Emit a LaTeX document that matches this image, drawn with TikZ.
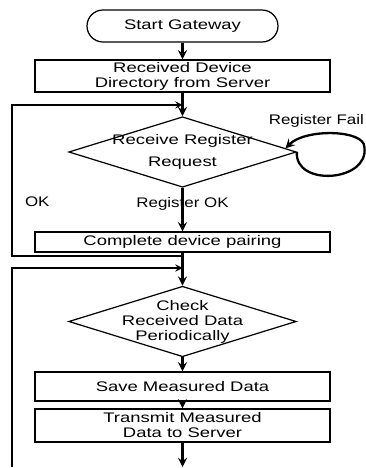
\documentclass[tikz,border=0pt]{standalone}
\usepackage{fontspec}
\setmainfont{Liberation Sans}[FakeStretch=1.33]
\newfontfamily\labelfont{Liberation Sans}[FakeStretch=1.22]
\usepackage{tikz}
\usetikzlibrary{shapes.geometric, arrows, positioning}

\begin{document}
\begin{tikzpicture}[node distance=1cm, font=\fontsize{7.9pt}{8.5pt}\selectfont,
    terminal/.style={rectangle, draw, line width=0.7pt, rounded corners=0.32cm, minimum width=3.82cm, minimum height=0.64cm, inner sep=0pt},
    block/.style={rectangle, draw, line width=0.7pt, minimum width=5.9cm, inner sep=0pt, align=center},
    decision/.style={diamond, draw, line width=0.7pt, minimum width=4.55cm, minimum height=1.41cm, inner sep=-1cm, align=center},
    lbl/.style={font=\fontsize{7.9pt}{8.5pt}\labelfont},
    arrow/.style={line width=1.3pt,->,>=stealth},
    loopback/.style={line width=0.8pt,->,>=stealth}]

    \useasboundingbox (0,0) rectangle (7.3,-9.36);

    \node [terminal] (start) at (3.65,-0.52) {Start Gateway};
    \node [block, minimum height=0.64cm, below of=start] (dir) {Received Device\\Directory from Server};
    \node [decision, below of=dir, node distance=1.52cm] (reg) {Receive Register\\[4pt]Request};
    \node [block, minimum height=0.4cm, below of=reg, node distance=1.8cm] (pair) {Complete device pairing};
    \node [decision, below of=pair, node distance=1.59cm] (check) {Check\\Received Data\\Periodically};
    \node [block, minimum height=0.58cm, below of=check, node distance=1.3cm] (save) {Save Measured Data};
    \node [block, minimum height=0.66cm, below of=save, node distance=0.78cm] (send) {Transmit Measured\\Data to Server};

    % junctions of the two loops
    \coordinate [below of=dir, node distance=0.58cm] (regin);
    \coordinate [below of=pair, node distance=0.28cm] (okjoin);
    \coordinate [below of=pair, node distance=0.52cm] (checkin);
    \coordinate [below of=send, node distance=0.83cm] (next);
    \coordinate [left of=next, node distance=3.41cm] (nextback);

    \draw [arrow] (start) -- (dir);
    \draw [arrow] (dir) -- (reg);
    \draw [arrow] (reg) -- node[lbl, pos=0.36] {Register OK} (pair);
    \draw [arrow] (reg.east) .. controls +(-0.05,-0.7) and +(0.1,-0.7) .. +(1.35,0.1)
        .. controls +(0,0.35) and +(0.4,0.4) .. node[lbl, pos=0.4, above, xshift=-0.52cm] {Register Fail} (reg.2);
    \draw [arrow] (pair) -- (check);
    \draw [arrow] (check) -- (save);
    \draw [arrow] (save) -- (send);
    \draw [arrow] (send) -- (next);
    \draw [loopback] (okjoin) -- ++(-3.41,0) |- node[lbl, pos=0.18, right, xshift=0.13cm] {OK} (regin);
    \draw [loopback] (nextback) |- (checkin);
\end{tikzpicture}
\end{document}
